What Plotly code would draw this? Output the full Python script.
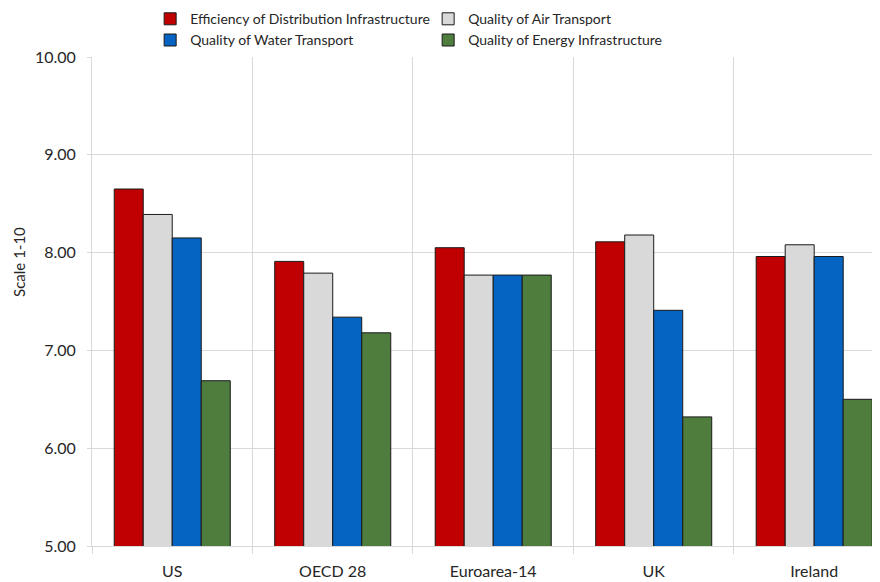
import plotly.graph_objects as go

categories = ["US", "OECD 28", "Euroarea-14", "UK", "Ireland"]
series_names = [
    "Efficiency of Distribution Infrastructure",
    "Quality of Air Transport",
    "Quality of Water Transport",
    "Quality of Energy Infrastructure",
]
distribution = [8.65, 7.91, 8.05, 8.11, 7.96]
air = [8.39, 7.79, 7.77, 8.18, 8.08]
water = [8.15, 7.34, 7.77, 7.41, 7.96]
energy = [6.69, 7.18, 7.77, 6.32, 6.50]
colors = ["#C00000", "#D9D9D9", "#0563C1", "#4E7D3E"]
y_ticks = [5, 6, 7, 8, 9, 10]
y_tick_labels = ["5.00", "6.00", "7.00", "8.00", "9.00", "10.00"]

FONT = "Lato, 'Open Sans', sans-serif"

fig = go.Figure()
for name, vals, col in zip(series_names, [distribution, air, water, energy], colors):
    fig.add_trace(go.Bar(
        x=categories, y=vals, name=name,
        marker=dict(color=col, line=dict(color="#1a1a1a", width=1)),
    ))

fig.update_layout(
    width=872, height=574,
    margin=dict(l=84, r=0, t=49, b=36, autoexpand=False),
    paper_bgcolor="white", plot_bgcolor="white",
    barmode="group", bargap=0.277, bargroupgap=0,
    font=dict(family=FONT, color="#262626", size=14),
    legend=dict(
        orientation="h", x=0.0738, xanchor="left", y=1.11, yanchor="top",
        entrywidth=233, entrywidthmode="pixels",
        font=dict(size=14, color="#262626"),
        traceorder="normal", itemwidth=30,
        bgcolor="rgba(0,0,0,0)",
    ),
    xaxis=dict(
        type="category", range=[-0.5, 4.41],
        tickson="boundaries", ticks="outside", ticklen=7, tickcolor="#D9D9D9",
        showgrid=True, gridcolor="#D9D9D9", gridwidth=1,
        showline=True, linecolor="#D9D9D9", linewidth=1,
        tickfont=dict(size=16, color="#262626"),
        ticklabelstandoff=11,
    ),
    yaxis=dict(
        range=[5, 10], tickvals=y_ticks, ticktext=y_tick_labels,
        ticks="outside", ticklen=4, tickcolor="#D9D9D9",
        showgrid=True, gridcolor="#D9D9D9", gridwidth=1,
        showline=True, linecolor="#D9D9D9", linewidth=1,
        tickfont=dict(size=16, color="#262626"),
        ticklabelstandoff=8,
        zeroline=False,
    ),
    annotations=[dict(
        text="Scale 1-10", textangle=-90, showarrow=False,
        xref="paper", yref="paper", x=-0.092, y=0.58,
        xanchor="center", yanchor="middle",
        font=dict(size=15, color="#262626"),
    )],
)

fig.write_html("out.html")
